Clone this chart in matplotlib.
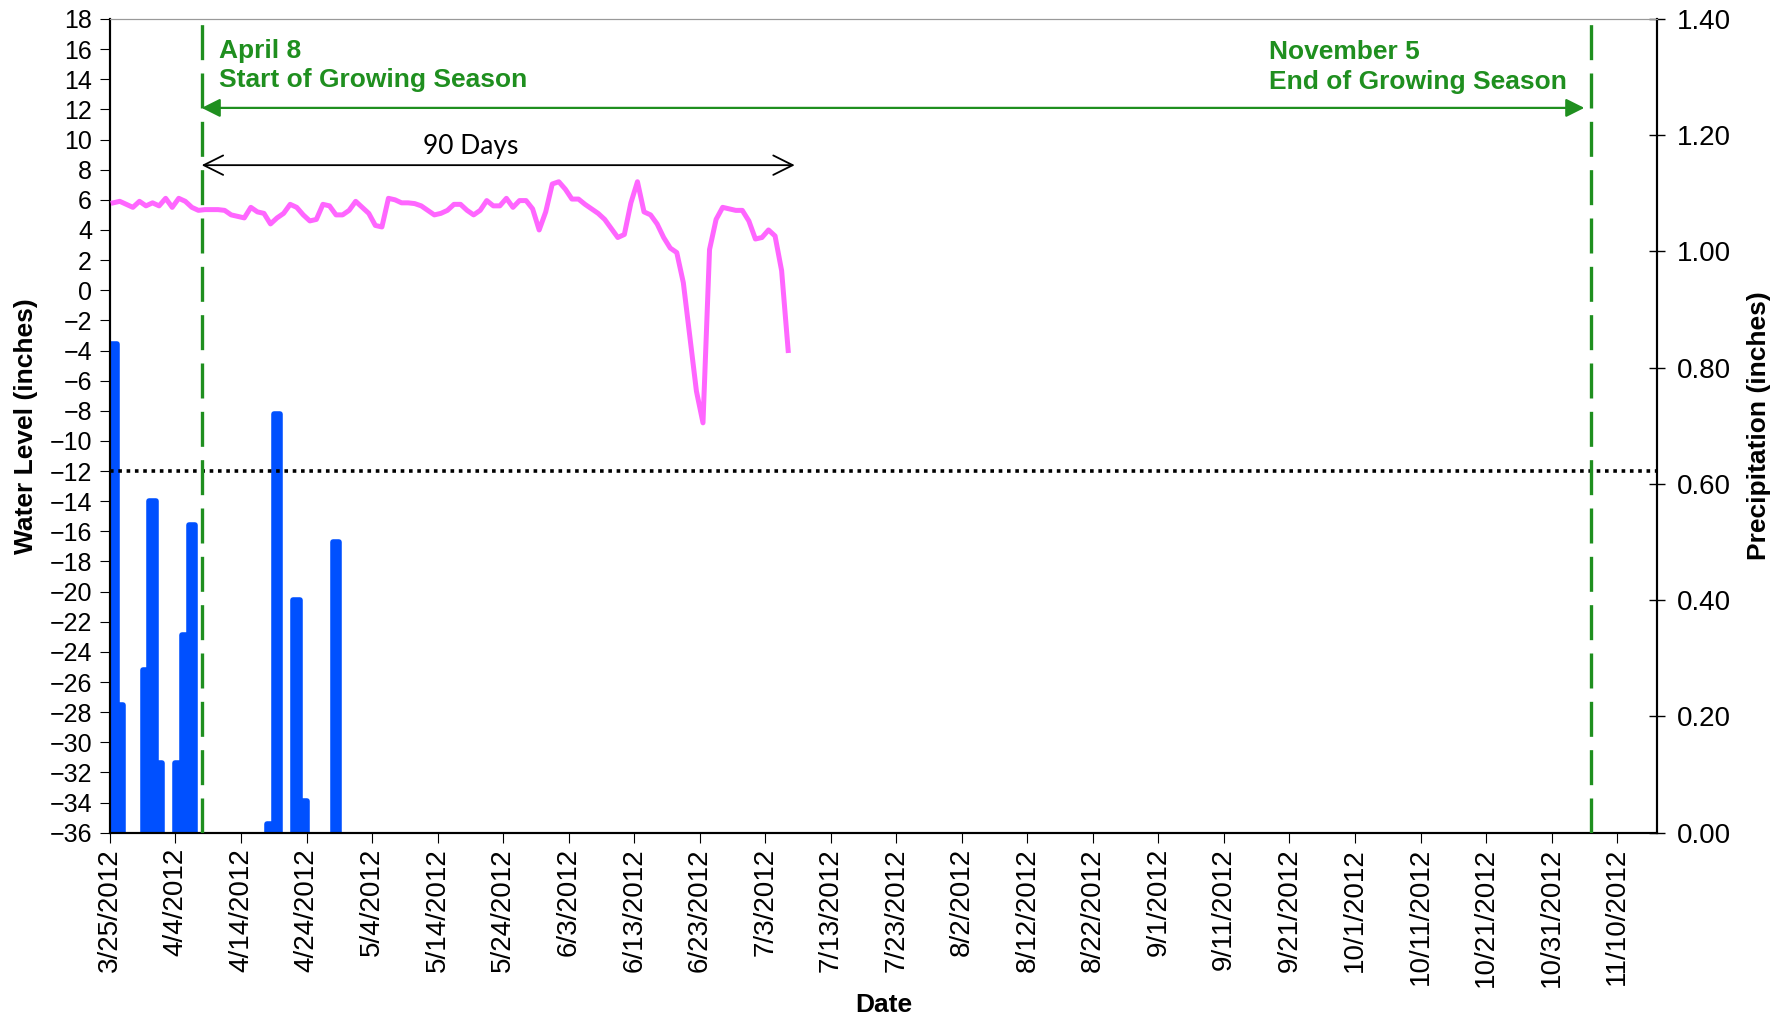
import numpy as np
import pandas as pd
import matplotlib
matplotlib.use("Agg")
import matplotlib.pyplot as plt

plt.rcParams['font.family'] = ['Liberation Sans', 'DejaVu Sans']

# daily water level (inches), starting 3/25/2012
start = pd.Timestamp("2012-03-25")
water_level = [5.8, 5.9, 5.7, 5.5, 5.9, 5.6, 5.8, 5.6, 6.1, 5.5,
               6.1, 5.9, 5.5, 5.3, 5.35, 5.35, 5.35, 5.3, 5.0, 4.9,
               4.8, 5.5, 5.2, 5.1, 4.4, 4.8, 5.1, 5.7, 5.5, 5.0,
               4.6, 4.7, 5.7, 5.6, 5.0, 5.0, 5.3, 5.9, 5.5, 5.1,
               4.3, 4.2, 6.1, 6.0, 5.8, 5.8, 5.75, 5.6, 5.3, 5.0,
               5.1, 5.3, 5.7, 5.7, 5.3, 5.0, 5.3, 5.95, 5.6, 5.6,
               6.1, 5.5, 5.95, 5.95, 5.4, 4.0, 5.2, 7.05, 7.2, 6.7,
               6.05, 6.05, 5.7, 5.4, 5.1, 4.7, 4.1, 3.5, 3.7, 5.8,
               7.2, 5.2, 5.0, 4.4, 3.5, 2.8, 2.5, 0.5, -3.1, -6.7,
               -8.8, 2.7, 4.7, 5.5, 5.4, 5.3, 5.3, 4.6, 3.4, 3.5,
               4.0, 3.6, 1.3, -4.0]
water_dates = pd.date_range(start, periods=len(water_level), freq="D")

# precipitation (inches)
rain_dates = pd.to_datetime(["2012-03-25", "2012-03-26", "2012-03-30", "2012-03-31",
                             "2012-04-01", "2012-04-04", "2012-04-05", "2012-04-06",
                             "2012-04-18", "2012-04-19", "2012-04-22", "2012-04-23",
                             "2012-04-28"])
rain = [0.84, 0.22, 0.28, 0.57, 0.12, 0.12, 0.34, 0.53, 0.015, 0.72, 0.40, 0.055, 0.50]

tick_dates = pd.date_range(start, "2012-11-10", freq="10D")
tick_labels = [f"{d.month}/{d.day}/{d.year}" for d in tick_dates]

season_start = pd.Timestamp("2012-04-08")
season_end = pd.Timestamp("2012-11-06")
end_90 = season_start + pd.Timedelta(days=90)

green = '#1f8f1f'
day = pd.Timedelta(days=1)

fig = plt.figure(figsize=(17.82, 10.21), dpi=100)
ax = fig.add_axes([0.0617, 0.1844, 0.8682, 0.7970])
ax2 = ax.twinx()

# precipitation bars (right axis)
bars = ax2.bar(rain_dates, rain, width=1.0, align='edge', color='#0050ff',
               edgecolor='#0050ff', linewidth=4)
for b in bars:
    b.set_joinstyle('round')
ax2.set_ylim(0, 1.4)
ax2.set_yticks(np.arange(0, 1.41, 0.2))
ax2.set_yticklabels([f"{v:.2f}" for v in np.arange(0, 1.41, 0.2)], fontsize=20)
ax2.tick_params(axis='y', direction='inout', length=12, width=1, pad=8)
ax2.set_ylabel("Precipitation (inches)", fontsize=19, fontweight='bold', labelpad=12)

# put water level axis on top of bars
ax.set_zorder(ax2.get_zorder() + 1)
ax.patch.set_visible(False)

ax.plot(water_dates + day / 2, water_level, color='#ff66ff', lw=3.6, zorder=4)
ax.axhline(-12, color='black', lw=2.6, linestyle=(0, (1, 1.3)), zorder=3)

for d in [season_start, season_end]:
    ax.axvline(d, color=green, lw=2.4, dashes=(10.5, 4), zorder=3)

ax.annotate("", xy=(season_start, 12.1), xytext=(season_end - day, 12.1),
            arrowprops=dict(arrowstyle='<|-|>', color=green, lw=1.6,
                            mutation_scale=28, shrinkA=0, shrinkB=0))
ax.annotate("", xy=(season_start, 8.3), xytext=(end_90 + day / 2, 8.3),
            arrowprops=dict(arrowstyle='<->', color='black', lw=1.3,
                            mutation_scale=35, shrinkA=0, shrinkB=0))
ax.text(season_start + 41 * day, 8.7, "90 Days", fontsize=19, family=['Lato', 'DejaVu Sans'],
        ha='center', va='bottom')
ax.text(season_start + 2.6 * day, 16.7, "April 8\nStart of Growing Season", color=green,
        fontsize=19, fontweight='bold', ha='left', va='top', linespacing=1.3)
ax.text(start + 176.9 * day, 16.6, "November 5\nEnd of Growing Season",
        color=green, fontsize=19, fontweight='bold', ha='left', va='top', linespacing=1.3)

ax.set_ylim(-36, 18)
ax.set_yticks(np.arange(-36, 19, 2))
ax.tick_params(axis='y', labelsize=18, length=7, pad=6)
ax.set_xlim(start, start + 236.1 * day)
ax.set_xticks(tick_dates)
ax.set_xticklabels(tick_labels, rotation=90, fontsize=20)
ax.tick_params(axis='x', length=7, pad=4)
ax.set_ylabel("Water Level (inches)", fontsize=19, fontweight='bold', labelpad=8)
ax.set_xlabel("Date", fontsize=19, fontweight='bold', labelpad=4)

for a in (ax, ax2):
    a.spines['top'].set_color('#999999')
    a.spines['left'].set_linewidth(1.5)
    a.spines['right'].set_linewidth(1.5)
    a.spines['bottom'].set_linewidth(1.5)

fig.savefig("out.png", dpi=100)
